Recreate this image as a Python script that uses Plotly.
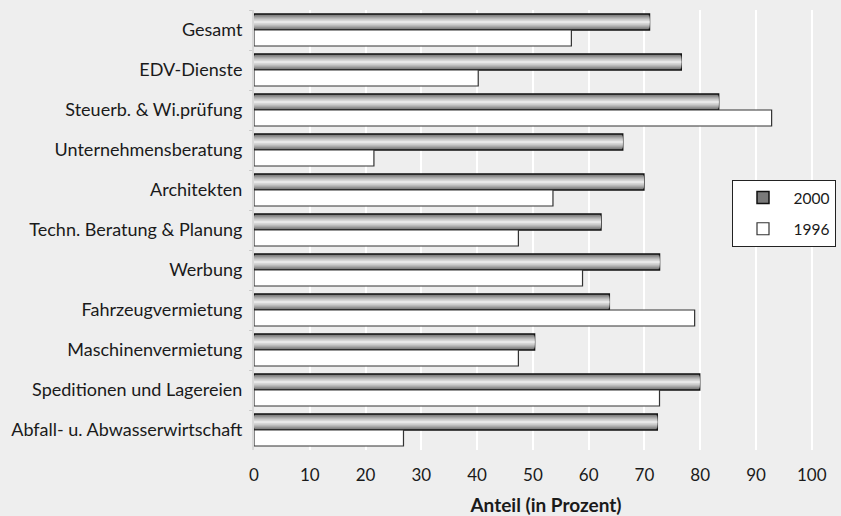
import plotly.graph_objects as go

categories = [
    "Gesamt", "EDV-Dienste", "Steuerb. & Wi.prüfung", "Unternehmensberatung",
    "Architekten", "Techn. Beratung & Planung", "Werbung", "Fahrzeugvermietung",
    "Maschinenvermietung", "Speditionen und Lagereien", "Abfall- u. Abwasserwirtschaft",
]
values_2000 = [70.9, 76.6, 83.3, 66.1, 69.9, 62.2, 72.7, 63.7, 50.3, 79.9, 72.3]
values_1996 = [56.9, 40.2, 92.8, 21.5, 53.6, 47.4, 58.9, 79.0, 47.4, 72.7, 26.8]
x_ticks = [0, 10, 20, 30, 40, 50, 60, 70, 80, 90, 100]

FONT = "Lato"
fig = go.Figure()

# 2000 outer bar (legend entry)
fig.add_trace(go.Bar(
    y=categories, x=values_2000, orientation="h", name="2000",
    offset=-0.4, width=0.4, legendgroup="a",
    marker=dict(color="#7a7a7a", line=dict(color="#111111", width=1.5)),
    hoverinfo="x+y",
))
# gradient layers for 2000 bars
layers = [(0.33, "#8e8e8e"), (0.26, "#a8a8a8"), (0.19, "#c0c0c0"), (0.12, "#d6d6d6"), (0.05, "#e8e8e8")]
for w, c in layers:
    fig.add_trace(go.Bar(
        y=categories, x=values_2000, orientation="h", showlegend=False,
        offset=-0.2 - w / 2, width=w, legendgroup="a",
        marker=dict(color=c, line=dict(width=0)),
        hoverinfo="skip",
    ))
# 1996 bars
fig.add_trace(go.Bar(
    y=categories, x=values_1996, orientation="h", name="1996",
    offset=0.0, width=0.4, legendgroup="b",
    marker=dict(color="#ffffff", line=dict(color="#333333", width=1.2)),
))

fig.update_layout(
    barmode="overlay",
    width=841, height=516,
    margin=dict(l=254, r=3, t=10, b=66),
    paper_bgcolor="#eeeeee", plot_bgcolor="#eeeeee",
    font=dict(family=FONT, size=18, color="#1a1a1a"),
    legend=dict(
        x=(731.5 - 254) / 584, xanchor="left",
        y=(450 - 180) / 440, yanchor="top",
        bgcolor="#ffffff", bordercolor="#222222", borderwidth=1,
        font=dict(family=FONT, size=15.5, color="#1a1a1a"),
        traceorder="grouped", itemwidth=51, tracegroupgap=8,
    ),
    xaxis=dict(
        range=[0, 104.7], tickvals=x_ticks, ticktext=[str(t) for t in x_ticks],
        showgrid=True, gridcolor="#ffffff", gridwidth=1.5,
        zeroline=False, showline=False,
        ticks="outside", ticklen=10, tickcolor="rgba(0,0,0,0)",
        tickfont=dict(size=17),
        title=dict(text="<b>Anteil (in Prozent)</b>", font=dict(size=19), standoff=14),
    ),
    yaxis=dict(
        autorange="reversed", type="category",
        showgrid=False, showline=True, linecolor="#d8d8d8", linewidth=2,
        ticks="outside", tickson="boundaries", ticklen=3, tickcolor="#cccccc",
        ticklabelstandoff=6,
    ),
)

fig.write_html(
    "out.html",
    config={"displayModeBar": False},
    post_script="document.body.style.margin='0';document.body.style.background='#eeeeee';",
)
